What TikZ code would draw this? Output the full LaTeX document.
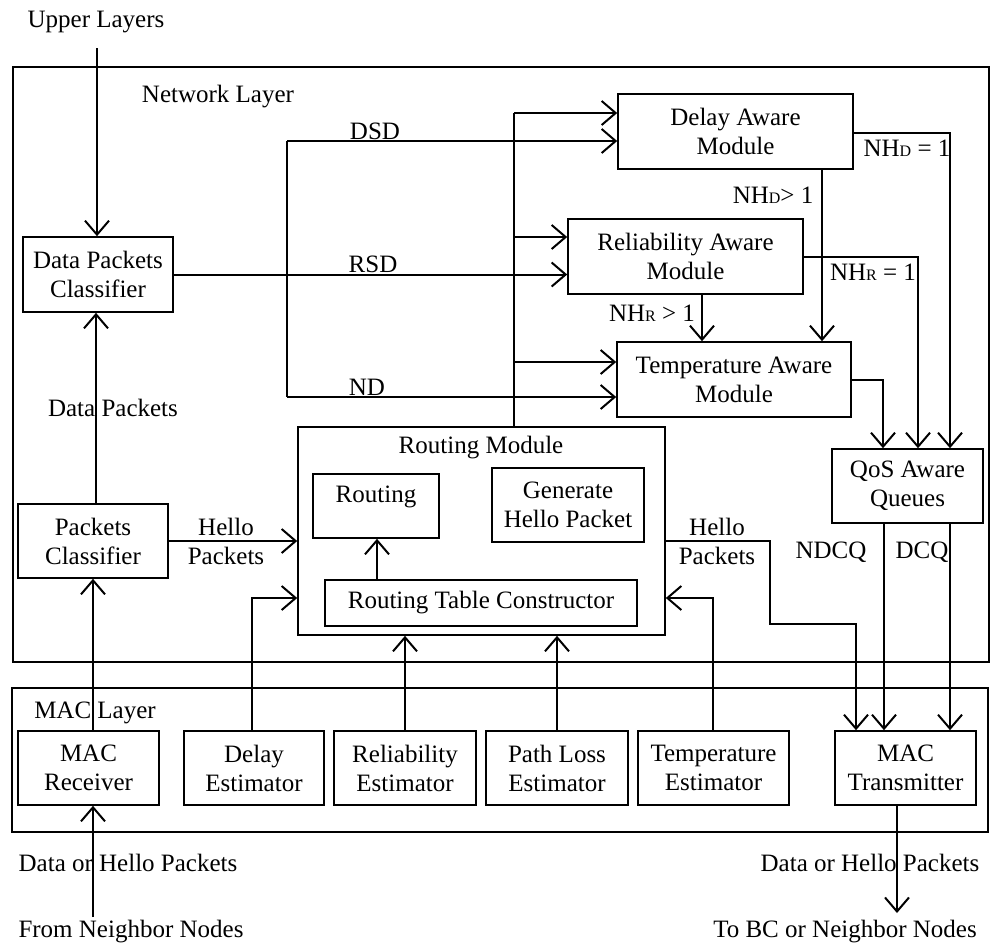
\documentclass[tikz,border=0pt]{standalone}
\usepackage{fontspec}
\setmainfont{Liberation Serif}
\usetikzlibrary{arrows.meta}
\newcommand\smc[1]{{\fontsize{16}{16}\selectfont #1}}
\tikzset{
  box/.style={draw, line width=1.6pt, align=center, inner sep=0pt},
  lbl/.style={inner sep=0pt, align=center},
  ln/.style={line width=2pt},
  arr/.style={line width=2pt, -{Straight Barb[length=14pt,width=24pt]}},
}
\begin{document}
\begin{tikzpicture}[x=1pt,y=-1pt, every node/.style={font=\fontsize{25}{29}\selectfont}]
\useasboundingbox (0,0) rectangle (991,946);

% layers
\node[box, minimum width=976pt, minimum height=595pt] (netbox) at (501,364.5) {};
\node[box, minimum width=976pt, minimum height=144pt] (macbox) at (500,760) {};
\node[lbl] (upper) at (96,22) {Upper Layers};
\node[lbl] (netlbl) at (218,97) {Network Layer};
\node[lbl] (maclbl) at (95,713) {MAC Layer};

% network layer boxes
\node[box, minimum width=150pt, minimum height=75pt] (dpc) at (98,274.5) {Data Packets\\Classifier};
\node[box, minimum width=150pt, minimum height=74pt] (pc) at (93,541) {Packets\\Classifier};
\node[lbl] (dplbl) at (113,408) {Data Packets};
\node[box, minimum width=235pt, minimum height=75pt] (dam) at (735.5,131.5) {Delay Aware\\Module};
\node[box, minimum width=235pt, minimum height=75pt] (ram) at (685.5,256.5) {Reliability Aware\\Module};
\node[box, minimum width=234pt, minimum height=75pt] (tam) at (734,379.5) {Temperature Aware\\Module};
\node[box, minimum width=151pt, minimum height=74pt] (qos) at (907.5,486) {QoS Aware\\Queues};
\node[box, minimum width=367pt, minimum height=208pt] (rm) at (481.5,531) {};
\node[lbl] (rmlbl) at (481,448) {Routing Module};
\node[box, minimum width=126pt, minimum height=64pt] (rt) at (376,506) {};
\node[lbl] (rtlbl) at (376,497) {Routing};
\node[box, minimum width=152pt, minimum height=74pt] (ghp) at (568,505) {Generate\\Hello Packet};
\node[box, minimum width=312pt, minimum height=46pt] (rtc) at (481,603) {Routing Table Constructor};

% MAC layer boxes
\node[box, minimum width=141pt, minimum height=74pt] (macr) at (88.5,768) {MAC\\Receiver};
\node[box, minimum width=140pt, minimum height=74pt] (de) at (254,768) {Delay\\Estimator};
\node[box, minimum width=142pt, minimum height=74pt] (re) at (405,768) {Reliability\\Estimator};
\node[box, minimum width=142pt, minimum height=74pt] (ple) at (557,768) {Path Loss\\Estimator};
\node[box, minimum width=151pt, minimum height=74pt] (te) at (713.5,768) {Temperature\\Estimator};
\node[box, minimum width=141pt, minimum height=74pt] (mact) at (905.5,768) {MAC\\Transmitter};

% outer labels
\node[lbl] (inlbl1) at (128,863) {Data or Hello Packets};
\node[lbl] (inlbl2) at (131,932) {From Neighbor Nodes};
\node[lbl] (outlbl1) at (870,863) {Data or Hello Packets};
\node[lbl] (outlbl2) at (845,932) {To BC or Neighbor Nodes};

% connector labels
\node[lbl] (dsd) at (375,131) {DSD};
\node[lbl] (rsd) at (373,264) {RSD};
\node[lbl] (nd) at (367,387) {ND};
\node[lbl] (nhd1) at (907,148) {NH\smc{D} = 1};
\node[lbl] (nhd2) at (773,195) {NH\smc{D}> 1};
\node[lbl] (nhr1) at (873,272) {NH\smc{R} = 1};
\node[lbl] (nhr2) at (652,313) {NH\smc{R} > 1};
\node[lbl] (hl1) at (226,541) {Hello\\Packets};
\node[lbl] (hl2) at (717,541) {Hello\\Packets};
\node[lbl] (ndcq) at (831,552) {NDCQ};
\node[lbl] (dcq) at (922,552) {DCQ};

% coordinates
\coordinate (upin) at (97,48);
\coordinate (fanT) at (287,141);
\coordinate (fanB) at (287,397);
\coordinate (rmup) at (514,113);
\coordinate (rmR) at (514,237);
\coordinate (rmT) at (514,362);
\coordinate (xD) at (950,133);
\coordinate (xR) at (918,256.5);
\coordinate (xT) at (883,380);
\coordinate (xDv) at (822,0);
\coordinate (xRv) at (702,0);
\coordinate (xN) at (884,0);
\coordinate (xC) at (950,0);
\coordinate (h1) at (770,541);
\coordinate (h2) at (856,624);
\coordinate (xP) at (96,0);
\coordinate (xM) at (93,0);
\coordinate (fromN) at (93,917);
\coordinate (dcorner) at (252,598);
\coordinate (tcorner) at (713,598);
\coordinate (xRt) at (377,0);
\coordinate (toN) at (897,913);

% connectors
\draw[arr] (upin) -- (upin |- dpc.north);
\draw[ln] (fanT) -- (fanB);
\draw[arr] (dpc.east) -- (dpc.east -| ram.west);
\draw[arr] (fanT) -- (fanT -| dam.west);
\draw[arr] (fanB) -- (fanB -| tam.west);

\draw[ln] (rm.north -| rmup) -- (rmup);
\draw[arr] (rmup) -- (rmup -| dam.west);
\draw[arr] (rmR) -- (rmR -| ram.west);
\draw[arr] (rmT) -- (rmT -| tam.west);

\draw[arr] (dam.east |- xD) -- (xD) -- (xD |- qos.north);
\draw[arr] (ram.east) -- (xR) -- (xR |- qos.north);
\draw[arr] (tam.east) -- (tam.east -| xT) -- (xT |- qos.north);
\draw[arr] (dam.south -| xDv) -- (tam.north -| xDv);
\draw[arr] (ram.south -| xRv) -- (tam.north -| xRv);

\draw[arr] (qos.south -| xN) -- (mact.north -| xN);
\draw[arr] (qos.south -| xC) -- (mact.north -| xC);
\draw[arr] (rm.east |- h1) -- (h1) |- (h2) -- (h2 |- mact.north);

\draw[arr] (pc.east) -- (pc.east -| rm.west);
\draw[arr] (pc.north -| xP) -- (dpc.south -| xP);
\draw[arr] (macr.north -| xM) -- (pc.south -| xM);
\draw[arr] (fromN) -- (fromN |- macr.south);

\draw[arr] (de.north -| dcorner) -- (dcorner) -- (dcorner -| rm.west);
\draw[arr] (re.north) -- (re.north |- rm.south);
\draw[arr] (ple.north) -- (ple.north |- rm.south);
\draw[arr] (te.north -| tcorner) -- (tcorner) -- (tcorner -| rm.east);
\draw[arr] (rtc.north -| xRt) -- (rt.south -| xRt);
\draw[arr] (mact.south -| toN) -- (toN);
\end{tikzpicture}
\end{document}
